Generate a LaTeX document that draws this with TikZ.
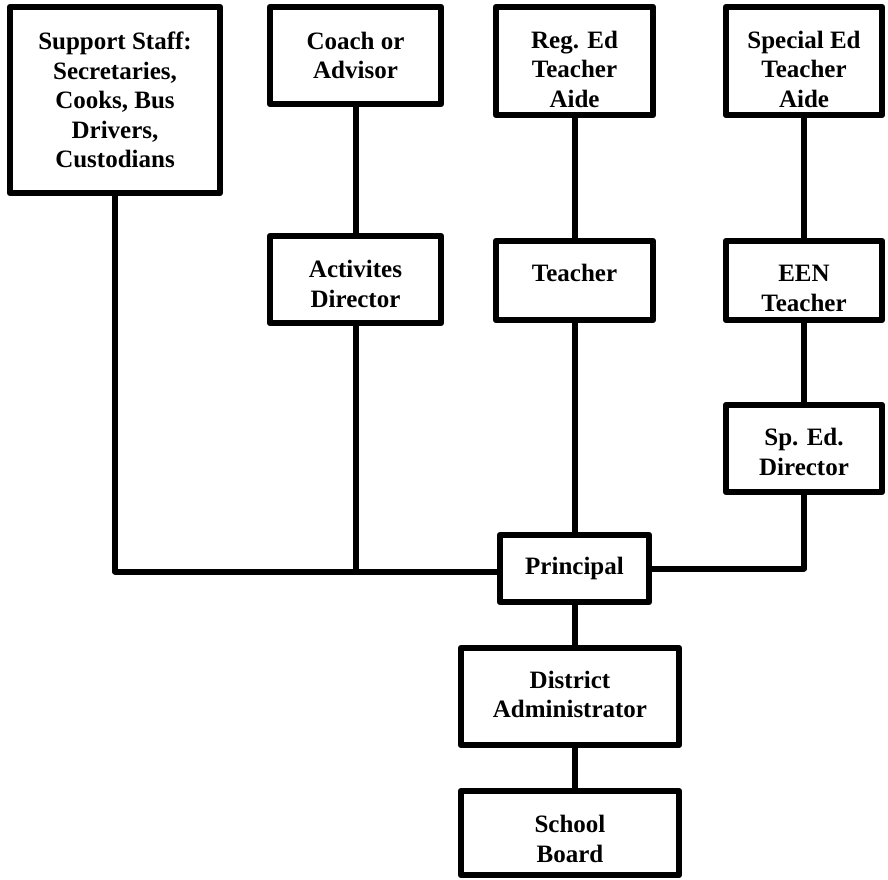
\documentclass[tikz,border=0pt]{standalone}
\usepackage{fontspec}
\setmainfont{Liberation Serif}
\usetikzlibrary{calc}

\tikzset{
  orgbox/.style={draw, line width=6.3pt, line join=round, align=center,
    inner sep=2pt, font=\fontsize{25}{29.5}\selectfont\bfseries},
  orgline/.style={line width=6pt, line join=round}
}
% text set lower in its box, box size kept
\newcommand{\dropped}[2]{\raisebox{-#1}[\height][\depth]{\begin{tabular}{@{}c@{}}#2\end{tabular}}}

\begin{document}
\begin{tikzpicture}[x=1pt,y=-1pt]

\useasboundingbox (0,0) rectangle (888,879);

% Top row of boxes
\node[orgbox, minimum width=210pt, minimum height=186pt] (sup) at (115,100) {Support Staff:\\Secretaries,\\Cooks, Bus\\Drivers,\\Custodians};
\node[orgbox, minimum width=171pt, minimum height=97pt] (coach) at (355.5,55.5) {Coach or\\Advisor};
\node[orgbox, minimum width=157pt, minimum height=108pt] (regaide) at (574.5,61) {\dropped{11pt}{Reg. Ed\\Teacher\\Aide}};
\node[orgbox, minimum width=156pt, minimum height=108pt] (spaide) at (804,61) {\dropped{11pt}{Special Ed\\Teacher\\Aide}};

% Second row
\node[orgbox, minimum width=171pt, minimum height=87pt] (act) at (355.5,279.5) {\dropped{7pt}{Activites\\Director}};
\node[orgbox, minimum width=157pt, minimum height=79pt] (teach) at (574.5,280.5) {\dropped{-5pt}{Teacher}};
\node[orgbox, minimum width=156pt, minimum height=79pt] (een) at (804,280.5) {\dropped{10pt}{EEN\\Teacher}};

% Sp. Ed. director
\node[orgbox, minimum width=156pt, minimum height=87pt] (sped) at (804,448.5) {\dropped{6pt}{Sp. Ed.\\Director}};

% Principal and the boxes below it
\node[orgbox, minimum width=149pt, minimum height=67pt] (prin) at (574.5,568.5) {Principal};
\node[orgbox, minimum width=218pt, minimum height=97pt] (dist) at (570,696.5) {\dropped{0.5pt}{District\\Administrator}};
\node[orgbox, minimum width=218pt, minimum height=84pt] (board) at (570,833) {\dropped{8.5pt}{School\\Board}};

% Left feed into the principal sits a little low
\coordinate (prinleft) at ($(prin.west)+(0,3)$);
\coordinate (actfoot) at (act.south |- prinleft);

% Draw the vertical links
\draw[orgline] (coach) -- (act);
\draw[orgline] (regaide) -- (teach);
\draw[orgline] (spaide) -- (een);
\draw[orgline] (een) -- (sped);
\draw[orgline] (teach) -- (prin);
\draw[orgline] (act) -- (actfoot);

% Draw the elbow links into the principal
\draw[orgline] (sup.south) |- (prinleft);
\draw[orgline] (sped.south) |- (prin.east);

% Draw the links down to the board
\draw[orgline] (prin.south) -- (prin.south |- dist.north);
\draw[orgline] (dist.south -| prin.south) -- (board.north -| prin.south);

\end{tikzpicture}
\end{document}
